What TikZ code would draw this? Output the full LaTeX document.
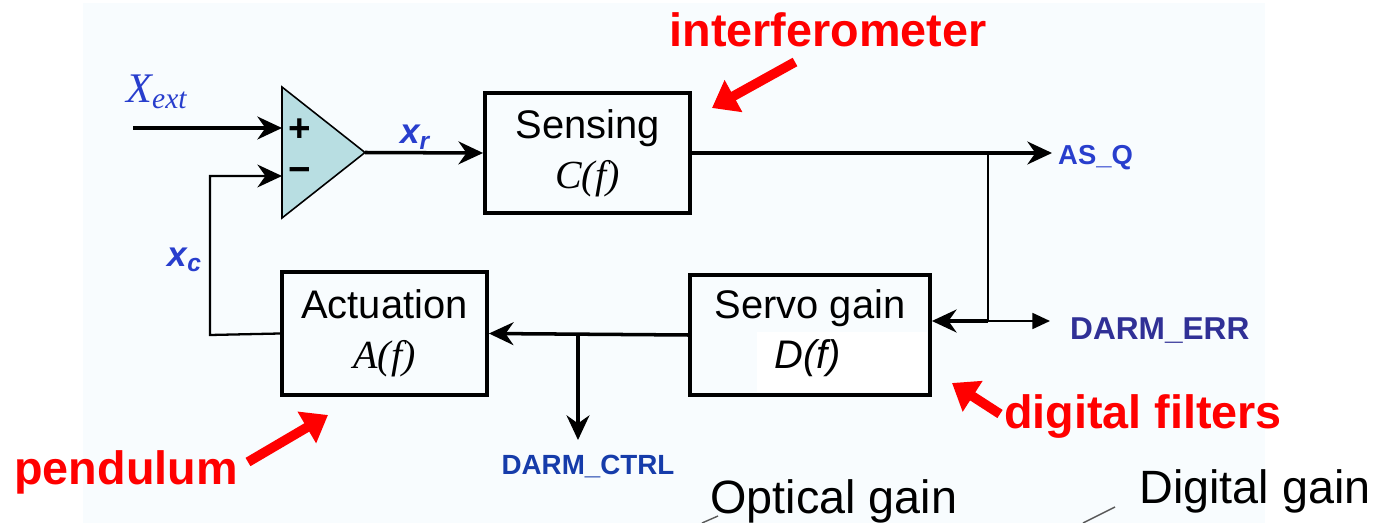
\documentclass[tikz,border=0pt]{standalone}
\usepackage{fontspec}
\setmainfont{Liberation Sans}
\newfontfamily\timesfont{Liberation Serif}
\usetikzlibrary{
  arrows.meta,
  positioning,
  calc
}
\definecolor{bgpale}{RGB}{248,252,254}
\definecolor{sumfill}{RGB}{184,222,226}
\definecolor{sigblue}{RGB}{40,62,205}
\definecolor{navy}{RGB}{48,48,150}
\definecolor{ctrlblue}{RGB}{22,60,170}

\begin{document}
\begin{tikzpicture}[
      x=0.02cm, y=-0.02cm,
      >=Stealth,
      bloco/.style={draw=black, line width=2.2pt, minimum width=4.1cm, minimum height=2.4cm,
                    align=center, font=\fontsize{22.7}{28.3}\selectfont},
      fio/.style={line width=2pt, -{Stealth[length=14pt, width=13pt]}},
      fiofino/.style={line width=1.3pt},
      sinal/.style={font=\fontsize{20}{22}\selectfont\bfseries\itshape, text=sigblue},
      saida/.style={font=\fontsize{15.6}{18}\selectfont\bfseries},
      rotulo/.style={font=\fontsize{26.6}{30}\selectfont\bfseries, text=red},
      ganho/.style={font=\fontsize{26.6}{30}\selectfont},
      seta/.style={line width=5.5pt, red, -{Triangle[length=14pt, width=20pt]}}
  ]
      \useasboundingbox (0,0) rectangle (1379,523);
      \fill[bgpale] (83,3) rectangle (1265,523);

      % --- SOMADOR ---
      \draw[fill=sumfill, line width=0.9pt] (282,87) -- (365,152.5) -- (282,218) -- cycle;
      \coordinate (mais)  at (282,128);
      \coordinate (menos) at (282,176);
      \coordinate (soma)  at (365,152.5);
      \node[font=\fontsize{22}{24}\selectfont\bfseries] (pm) at (300,130) {+};
      \node[font=\fontsize{22}{24}\selectfont\bfseries] (mm) at (300,175) {\textminus};

      % --- BLOCOS ---
      \node[bloco] (sens) at (587.5,153) {Sensing\\{\timesfont\itshape C(f)}};
      \node[bloco, minimum height=2.46cm] (act) at (384.5,333.5) {Actuation\\{\timesfont\itshape A(f)}};
      \node[bloco, minimum width=4.8cm] (servo) at (810,335) {};
      \fill[white] (757,332) rectangle (927,392);
      \node[font=\fontsize{22.7}{28.3}\selectfont] (stxt) at (810,308) {Servo gain};
      \node[font=\fontsize{22.7}{28.3}\selectfont\itshape] (dgain) at (808,358) {D(f)};

      % --- SINAIS ---
      \coordinate (xin) at (133,128);
      \node[font=\fontsize{24}{26}\selectfont\timesfont\itshape, text=sigblue] (xext) at (157,92)
           {X\textsubscript{ext}};
      \node[sinal] (xr) at (415,137) {x\textsubscript{r}};
      \node[sinal] (xc) at (185,260) {x\textsubscript{c}};
      \node[saida, text=sigblue, anchor=base west] (asq) at (1052,165) {AS\_Q};
      \node[saida, font=\fontsize{18}{20}\selectfont\bfseries, text=navy, anchor=base west] (err) at (1064,340) {DARM\_ERR};
      \node[saida, font=\fontsize{15.8}{18}\selectfont\bfseries, text=ctrlblue, anchor=base] (ctrl) at (588,474) {DARM\_CTRL};

      \coordinate (ramo1) at (988,153);
      \coordinate (ramo2) at (988,321);
      \coordinate (ramo3) at (578,335);

      \draw[fio] (xin) -- (mais);
      \draw[fio] (soma) -- (sens.west);
      \draw[fio] (sens.east) -- (asq.west |- sens.east);
      \draw[fiofino] (ramo1) -- (ramo2);
      \draw[fio] (ramo2) -- (ramo2 -| servo.east);
      \draw[fiofino, -{Triangle[length=10pt, width=9pt]}] (ramo2) -- ($(ramo2 -| err.west)+(-14,0)$);
      \draw[fio] (servo.west) -- (act.east);
      \draw[fio] (ramo3) -- (578,440);
      \draw[fiofino, -{Stealth[length=14pt, width=13pt]}] (act.west) -- (210,335) |- (menos);

      % --- ROTULOS ---
      \node[rotulo, anchor=base] (interf) at (828,47) {interferometer};
      \node[rotulo, anchor=base] (filt) at (1143,428) {digital filters};
      \node[rotulo, anchor=base] (pend) at (126,484) {pendulum};
      \draw[seta] (795,62) -- (712,108);
      \draw[seta] (1000,414) -- (952,383);
      \draw[seta] (248,462) -- (328,415);

      % --- GANHOS ---
      \node[ganho, anchor=base] (optg) at (834,513) {Optical gain};
      \node[ganho, anchor=base] (digg) at (1255,503) {Digital gain};
      \draw[gray!70!black, line width=0.8pt] (718,516) -- (702,523);
      \draw[gray!70!black, line width=0.8pt] (1115,507) -- (1083,523);

  \end{tikzpicture}
\end{document}
